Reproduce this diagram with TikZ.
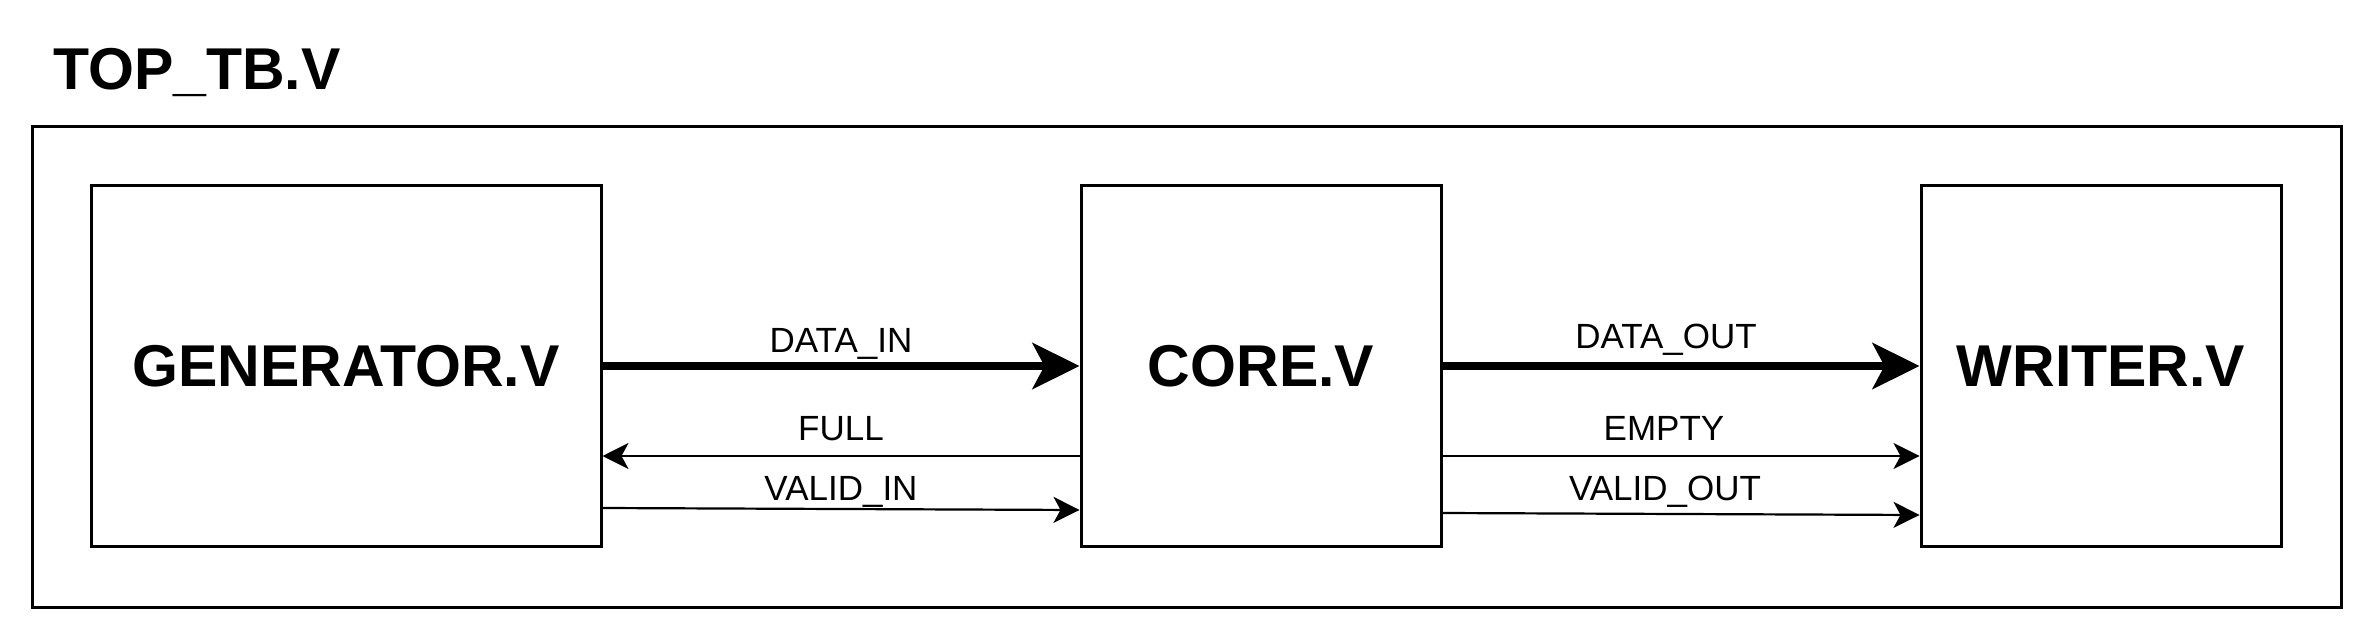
\documentclass[tikz,border=0pt]{standalone}
\usepackage{fontspec}
\setmainfont{Liberation Sans}
\usetikzlibrary{arrows.meta}
\begin{document}
\begin{tikzpicture}[x=1pt,y=-1pt,
  frame/.style={draw,line width=3pt,inner sep=0pt},
  box/.style={frame,minimum height=360pt,font=\fontsize{59}{70}\selectfont\bfseries},
  bus/.style={line width=8pt,-{Stealth[length=47pt,width=46pt,inset=12pt]}},
  sig/.style={line width=2.2pt,-{Stealth[length=26pt,width=26pt,inset=7pt]}},
  lbl/.style={anchor=base,inner sep=0pt,font=\fontsize{35}{42}\selectfont}]
\useasboundingbox (0,0) rectangle (2373,639);
\node[frame,minimum width=2309pt,minimum height=480pt] (outer) at (1186.5,367) {};
\node[anchor=base west,inner sep=0pt,font=\fontsize{59}{70}\selectfont\bfseries] (title) at (53,90) {TOP\_TB.V};
\node[box,minimum width=510pt] (gen) at (346,366) {GENERATOR.V};
\node[box,minimum width=360pt] (core) at (1261,366) {CORE.V};
\node[box,minimum width=360pt] (writer) at (2101,366) {WRITER.V};
% connectors
\draw[bus] (gen.east) -- (core.west);
\draw[sig] ([yshift=-90pt]core.west) -- ([yshift=-90pt]gen.east);
\draw[sig] ([yshift=-142pt]gen.east) -- ([yshift=-144pt]core.west);
\draw[bus] (core.east) -- (writer.west);
\draw[sig] ([yshift=-90pt]core.east) -- ([yshift=-90pt]writer.west);
\draw[sig] ([yshift=-147pt]core.east) -- ([yshift=-149pt]writer.west);
% labels
\node[lbl] (l1) at (841,352) {DATA\_IN};
\node[lbl] (l2) at (841,440) {FULL};
\node[lbl] (l3) at (841,500) {VALID\_IN};
\node[lbl] (l4) at (1666,348) {DATA\_OUT};
\node[lbl] (l5) at (1664,440) {EMPTY};
\node[lbl] (l6) at (1665,500) {VALID\_OUT};
\end{tikzpicture}
\end{document}
